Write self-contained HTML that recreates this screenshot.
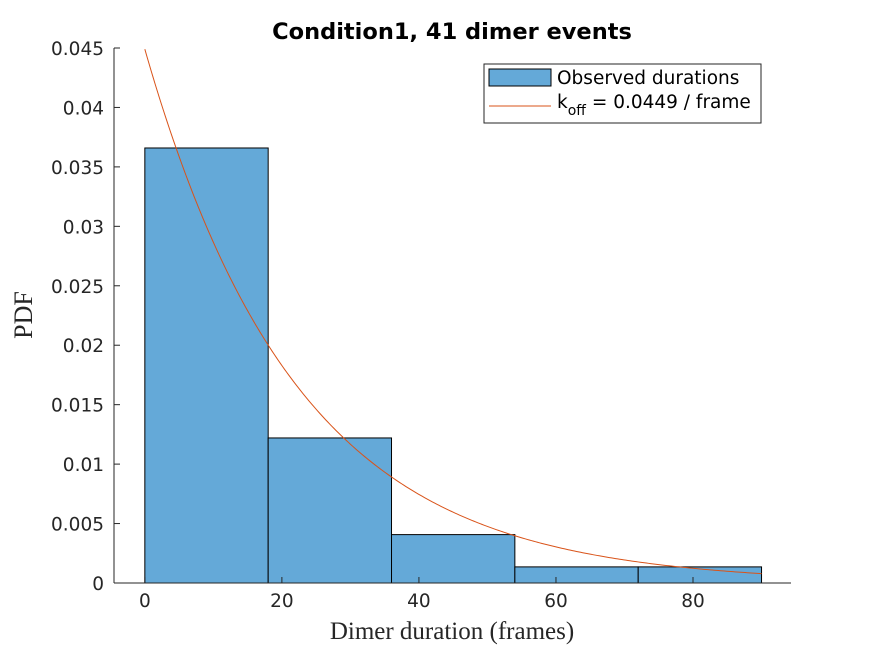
<!DOCTYPE html>
<html><head><meta charset="utf-8"><style>
body{margin:0;background:#fff}
svg text{font-family:"DejaVu Sans","Liberation Sans",sans-serif}
</style></head><body>
<svg id="chart" width="875" height="656">
<rect width="875" height="656" fill="#fff"/>
<g id="plot"></g>
<text x="452" y="39" font-size="22.5" font-weight="bold" text-anchor="middle">Condition1, 41 dimer events</text>
<text x="452" y="639" font-size="25" text-anchor="middle" style="font-family:'Liberation Serif',serif" fill="#262626">Dimer duration (frames)</text>
<text transform="translate(32,315) rotate(-90)" font-size="26" text-anchor="middle" style="font-family:'Liberation Serif',serif" fill="#262626">PDF</text>
<g>
<rect x="484" y="64" width="277" height="59" fill="#fff" stroke="#262626" stroke-width="1"/>
<rect x="489" y="69" width="62" height="17" fill="#64a9d8" stroke="#000"/>
<text x="557" y="84" font-size="18.5" fill="#000">Observed durations</text>
<line x1="489" y1="106" x2="551" y2="106" stroke="#d95319" stroke-width="1"/>
<text x="557" y="108" font-size="18.5" fill="#000">k<tspan font-size="14" dy="7">off</tspan><tspan dy="-7"> = 0.0449 / frame</tspan></text>
</g>
</svg>
<script>
const binEdges=[0,18,36,54,72,90];
const pdfValues=[0.03659,0.01220,0.00407,0.001355,0.001355];
const koff=0.0449;
const xTicks=[0,20,40,60,80];
const yTicks=[0,0.005,0.01,0.015,0.02,0.025,0.03,0.035,0.04,0.045];
const yTickLabels=["0","0.005","0.01","0.015","0.02","0.025","0.03","0.035","0.04","0.045"];
const L=114,R=791,T=48,B=583,xmin=-4.5,xmax=94.3,ymax=0.045;
const X=v=>L+(v-xmin)/(xmax-xmin)*(R-L);
const Y=v=>B-v/ymax*(B-T);
const g=document.getElementById('plot');
const NS='http://www.w3.org/2000/svg';
function mk(t,a){const e=document.createElementNS(NS,t);for(const k in a)e.setAttribute(k,a[k]);g.appendChild(e);return e;}
pdfValues.forEach((v,i)=>{
const r=mk('rect',{x:X(binEdges[i]),y:Y(v),width:X(binEdges[i+1])-X(binEdges[i]),height:B-Y(v),fill:'#64a9d8',stroke:'#000','stroke-width':1});


});
let d='';for(let i=0;i<=300;i++){const x=90*i/300;d+=(i?'L':'M')+X(x).toFixed(2)+','+Y(koff*Math.exp(-koff*x)).toFixed(2);}
const p=mk('path',{d:d,fill:'none',stroke:'#d95319','stroke-width':1});


mk('line',{x1:L,y1:B,x2:R,y2:B,stroke:'#262626'});
mk('line',{x1:L,y1:T,x2:L,y2:B,stroke:'#262626'});
xTicks.forEach(t=>{mk('line',{x1:X(t),y1:B,x2:X(t),y2:B-6,stroke:'#262626'});
const tx=mk('text',{x:X(t),y:B+24,'font-size':18.5,'text-anchor':'middle',fill:'#262626'});tx.textContent=t;

});
yTicks.forEach((t,i)=>{mk('line',{x1:L,y1:Y(t),x2:L+6,y2:Y(t),stroke:'#262626'});
const tx=mk('text',{x:L-10,y:Y(t)+7,'font-size':18.5,'text-anchor':'end',fill:'#262626'});tx.textContent=yTickLabels[i];

});
</script>
</body></html>
